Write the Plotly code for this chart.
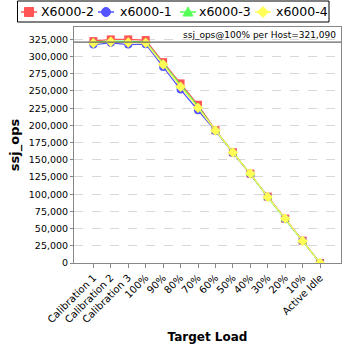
import plotly.graph_objects as go

categories = ["Calibration 1", "Calibration 2", "Calibration 3", "100%", "90%", "80%",
              "70%", "60%", "50%", "40%", "30%", "20%", "10%", "Active Idle"]

x6000_2 = [322500, 325000, 325000, 324000, 292000, 261000, 230000, 193000, 161000, 130000, 96500, 64500, 32500, 0]
x6000_1 = [317500, 320000, 317500, 318000, 285000, 252000, 222000, 192000, 160000, 129500, 96000, 64000, 32000, 0]
x6000_3 = [321500, 322500, 322000, 321500, 290000, 258000, 227500, 192500, 160500, 129500, 95500, 64000, 32000, 0]
x6000_4 = [319500, 321500, 320500, 320000, 288500, 256000, 225500, 192500, 160500, 130000, 96000, 64500, 32000, 0]
ref_value = 321090
ref_label = "ssj_ops@100% per Host=321,090"

series = [
    ("X6000-2", x6000_2, "#FF5555", "square"),
    ("x6000-1", x6000_1, "#5555FF", "circle"),
    ("x6000-3", x6000_3, "#55FF55", "triangle-up"),
    ("x6000-4", x6000_4, "#FFFF55", "diamond"),
]

W, H = 348, 348
ML, MR, MT, MB = 74, 7, 27, 85
PW, PH = W - ML - MR, H - MT - MB


def px(x):
    """Pixel column -> paper x."""
    return (x - ML) / PW


def py(y):
    """Pixel row -> paper y."""
    return (H - MB - y) / PH


fig = go.Figure()
idx = list(range(len(categories)))
for name, vals, color, sym in series:
    fig.add_trace(go.Scatter(
        x=idx, y=vals, name=name, mode="lines+markers",
        line=dict(color=color, width=1.2),
        marker=dict(symbol=sym, size=8, color=color),
        showlegend=False,
    ))

fig.add_hline(y=ref_value, line=dict(color="#666666", width=1.2))
fig.add_annotation(x=1, xref="paper", y=ref_value, yref="y", text=ref_label,
                   showarrow=False, xanchor="right", yanchor="bottom", xshift=-3,
                   font=dict(size=9, color="#000000"))

# Legend row drawn as shapes + text across the top of the figure
shapes = [dict(type="rect", xref="paper", yref="paper",
               x0=px(17.5), x1=px(329), y0=py(22), y1=py(1),
               line=dict(color="#000000", width=1), fillcolor="white", layer="above")]
legend_x = [29, 106, 188, 263]
text_x = [39, 118, 197, 274]
ly = 12
r = 4.5
paths = {
    "square": f"M{-r},{-r} L{r},{-r} L{r},{r} L{-r},{r} Z",
    "circle": None,
    "triangle-up": f"M0,{r + 0.5} L{r + 0.5},{-r + 0.5} L{-r - 0.5},{-r + 0.5} Z",
    "diamond": f"M0,{r + 1} L{r + 1},0 L0,{-r - 1} L{-r - 1},0 Z",
}
for (name, vals, color, sym), cx, tx in zip(series, legend_x, text_x):
    shapes.append(dict(type="line", xref="paper", yref="paper",
                       x0=px(cx - 8), x1=px(cx + 8), y0=py(ly), y1=py(ly),
                       line=dict(color=color, width=1.5), layer="above"))
    if sym == "circle":
        shapes.append(dict(type="circle", xref="paper", yref="paper",
                           xsizemode="pixel", ysizemode="pixel",
                           xanchor=px(cx), yanchor=py(ly),
                           x0=-r, x1=r, y0=-r, y1=r,
                           fillcolor=color, line=dict(color=color, width=1), layer="above"))
    else:
        shapes.append(dict(type="path", xref="paper", yref="paper",
                           xsizemode="pixel", ysizemode="pixel",
                           xanchor=px(cx), yanchor=py(ly), path=paths[sym],
                           fillcolor=color, line=dict(color=color, width=1), layer="above"))
    fig.add_annotation(x=px(tx), y=py(ly), xref="paper", yref="paper", text=name,
                       showarrow=False, xanchor="left", yanchor="middle",
                       font=dict(size=12.5, color="#000000"))

fig.update_layout(
    width=W, height=H,
    margin=dict(l=ML, r=MR, t=MT, b=MB),
    paper_bgcolor="white", plot_bgcolor="white",
    font=dict(family="DejaVu Sans", size=10, color="#000000"),
    showlegend=False,
    shapes=fig.layout.shapes + tuple(shapes),
)
fig.update_xaxes(
    range=[-1.11, 14.2], tickmode="array", tickvals=idx, ticktext=categories,
    tickangle=-45, ticks="outside", ticklen=4, tickcolor="#888888",
    showgrid=False, showline=True, linecolor="#888888", mirror=True, zeroline=False,
    title=dict(text="<b>Target Load</b>", font=dict(size=12), standoff=8),
)
fig.update_yaxes(
    range=[0, 343000], dtick=25000, tickformat=",d", tickfont=dict(size=9.5),
    ticks="outside", ticklen=3, tickcolor="#888888",
    showgrid=True, gridcolor="#d8d8d8", griddash="dash",
    showline=True, linecolor="#888888", mirror=True, zeroline=False,
    title=dict(text="<b>ssj_ops</b>", font=dict(size=13), standoff=6),
)

fig.write_html("out.html")
